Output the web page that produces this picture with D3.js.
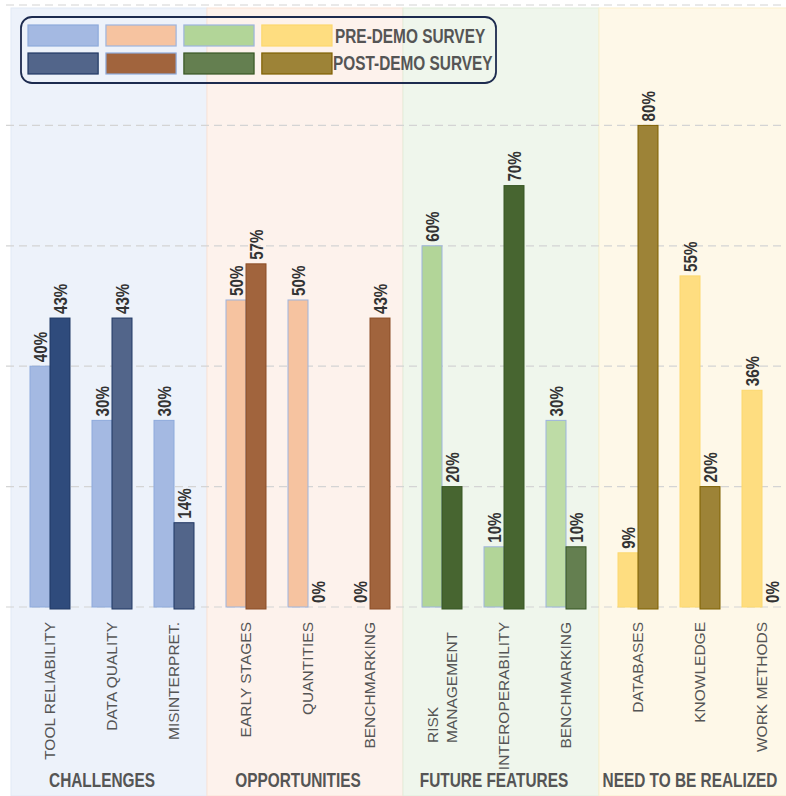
<!DOCTYPE html>
<html>
<head>
<meta charset="utf-8">
<script src="https://cdn.jsdelivr.net/npm/d3@7/dist/d3.min.js"></script>
<style>
  body { margin: 0; background: #fff; }
  .narrow { font-family: "Liberation Sans", Arial, sans-serif; font-weight: bold; }
</style>
</head>
<body>
<div id="chart"></div>
<script>
// data
var groups = ["CHALLENGES", "OPPORTUNITIES", "FUTURE FEATURES", "NEED TO BE REALIZED"];
var categories = [
    ["TOOL RELIABILITY", "DATA QUALITY", "MISINTERPRET."],
    ["EARLY STAGES", "QUANTITIES", "BENCHMARKING"],
    ["RISK\nMANAGEMENT", "INTEROPERABILITY", "BENCHMARKING"],
    ["DATABASES", "KNOWLEDGE", "WORK METHODS"]
];
// bar heights as drawn in the picture (%)
var preValues  = [40, 31, 31,  51, 51, 0,  60, 10, 31,  9, 55, 36];
var postValues = [48, 48, 14,  57, 0, 48,  20, 70, 10,  80, 20, 0];
// printed value labels
var preLabels  = ["40%", "30%", "30%", "50%", "50%", "0%", "60%", "10%", "30%", "9%", "55%", "36%"];
var postLabels = ["43%", "43%", "14%", "57%", "0%", "43%", "20%", "70%", "10%", "80%", "20%", "0%"];
var yTicks = [0, 20, 40, 60, 80, 100];
var legendLabels = ["PRE-DEMO SURVEY", "POST-DEMO SURVEY"];

// colours per group
var panelFill   = ["#edf2fa", "#fdf2ec", "#eff6ec", "#fef8e8"];
var panelStroke = ["#e2e9f5", "#fbe3d6", "#e1eedb", "#fbefcc"];
var preFill     = ["#a4b9e2", "#f6c3a0", "#b2d598", "#fedd80"];
var preStroke   = ["#8eaadb", "#9db4de", "#9db4de", "#fcd86e"];
var postFill    = ["#52658a", "#a1643d", "#647f50", "#9d8337"];
var postDark    = ["#2f4b7c", "#a1643d", "#476530", "#9d8337"];
var postStroke  = ["#203864", "#8b4d26", "#375623", "#7f6000"];
var darkPosts = {"0-0": 1, "2-0": 1, "2-1": 1};
var lightPres = {"2-2": "#bedca6"};

var width = 786, height = 796;
// condensed look for the bold labels
var squeeze = "scale(0.82,1)";
var squeezeBig = "scale(0.77,1)";

var svg = d3.select("#chart").append("svg")
    .attr("width", width)
    .attr("height", height);

var y = d3.scaleLinear().domain([0, 100]).range([607, 5]);

var xGroup = d3.scaleBand().domain(groups).range([11, 795]);

var xCat = groups.map(function(g, gi) {
    var x0 = xGroup(g);
    return d3.scaleBand().domain(d3.range(3)).range([x0 + 8, x0 + 194]);
});
var xSeries = d3.scaleBand().domain(["pre", "post"]).range([-20, 20]);

// rows
var rows = [];
categories.forEach(function(cats, gi) {
    cats.forEach(function(c, ci) {
        var k = gi * 3 + ci;
        rows.push({g: gi, c: ci, name: c, pre: preValues[k], post: postValues[k],
            preLabel: preLabels[k], postLabel: postLabels[k]});
    });
});

function cx(d) { return xCat[d.g](d.c) + xCat[d.g].bandwidth() / 2; }

// panels
svg.selectAll(".panel")
    .data(groups)
    .enter().append("rect")
    .attr("class", "panel")
    .attr("x", function(d) { return xGroup(d); })
    .attr("y", 8)
    .attr("width", xGroup.bandwidth())
    .attr("height", height - 8)
    .attr("fill", function(d, i) { return panelFill[i]; })
    .attr("stroke", function(d, i) { return panelStroke[i]; });

// grid
svg.selectAll(".grid")
    .data(yTicks)
    .enter().append("line")
    .attr("class", "grid")
    .attr("x1", 6).attr("x2", width)
    .attr("y1", function(d) { return y(d); })
    .attr("y2", function(d) { return y(d); })
    .attr("stroke", "#d4d4d4")
    .attr("stroke-width", 1.2)
    .attr("stroke-dasharray", "8,5");

// bars
var cat = svg.selectAll(".cat")
    .data(rows)
    .enter().append("g")
    .attr("class", "cat")
    .attr("transform", function(d) { return "translate(" + cx(d) + ",0)"; });

cat.filter(function(d) { return d.pre > 0; })
    .append("rect")
    .attr("x", xSeries("pre"))
    .attr("width", xSeries.bandwidth())
    .attr("y", function(d) { return y(d.pre); })
    .attr("height", function(d) { return y(0) - y(d.pre); })
    .attr("fill", function(d) { return lightPres[d.g + "-" + d.c] || preFill[d.g]; })
    .attr("stroke", function(d) { return preStroke[d.g]; });

cat.filter(function(d) { return d.post > 0; })
    .append("rect")
    .attr("x", xSeries("post"))
    .attr("width", xSeries.bandwidth())
    .attr("y", function(d) { return y(d.post); })
    .attr("height", function(d) { return y(0) - y(d.post) + 2; })
    .attr("fill", function(d) { return darkPosts[d.g + "-" + d.c] ? postDark[d.g] : postFill[d.g]; })
    .attr("stroke", function(d) { return postStroke[d.g]; });

// value labels
["pre", "post"].forEach(function(s) {
    cat.append("text")
        .attr("class", "narrow")
        .attr("transform", function(d) {
            return "translate(" + (xSeries(s) + xSeries.bandwidth() / 2) + "," + (y(d[s]) - 4) + ") rotate(-90) " + squeeze;
        })
        .attr("dy", "0.36em")
        .attr("font-size", 18.5)
        .attr("fill", "#333")
        .text(function(d) { return d[s + "Label"]; });
});

// category labels
var catLabel = cat.append("text")
    .attr("font-family", "'Liberation Sans', Arial, sans-serif")
    .attr("font-size", 15.5)
    .attr("fill", "#555")
    .attr("transform", function(d) {
        var multi = d.name.indexOf("\n") >= 0;
        return "translate(0," + (multi ? 743 : 622) + ") rotate(-90)";
    })
    .attr("text-anchor", function(d) { return d.name.indexOf("\n") >= 0 ? "start" : "end"; });

catLabel.each(function(d) {
    var lines = d.name.split("\n");
    var t = d3.select(this);
    lines.forEach(function(l, i) {
        t.append("tspan")
            .attr("x", 0)
            .attr("dy", i === 0 ? (0.35 - (lines.length - 1) * 0.6) + "em" : "1.2em")
            .text(l);
    });
});

// group labels
svg.selectAll(".glabel")
    .data(groups)
    .enter().append("text")
    .attr("class", "narrow")
    .attr("transform", function(d) {
        return "translate(" + (xGroup(d) + xGroup.bandwidth() / 2 - 7) + ",787) " + squeezeBig;
    })
    .attr("text-anchor", "middle")
    .attr("font-size", 20)
    .attr("fill", "#555")
    .text(function(d) { return d; });

// legend
var legend = svg.append("g");
legend.append("rect")
    .attr("x", 21).attr("y", 17)
    .attr("width", 475).attr("height", 66)
    .attr("rx", 11)
    .attr("fill", "none")
    .attr("stroke", "#1d2b4f")
    .attr("stroke-width", 1.8);

var xLeg = d3.scaleBand().domain(groups).range([28, 332]).paddingInner(0.1);
legendLabels.forEach(function(lab, r) {
    var yy = r === 0 ? 25 : 53;
    legend.selectAll(".sw" + r)
        .data(groups)
        .enter().append("rect")
        .attr("x", function(d) { return xLeg(d); })
        .attr("y", yy)
        .attr("width", xLeg.bandwidth())
        .attr("height", 21)
        .attr("fill", function(d, i) { return r === 0 ? preFill[i] : postFill[i]; })
        .attr("stroke", function(d, i) { return r === 0 ? preStroke[i] : (i === 1 ? "#8eaadb" : postStroke[i]); })
        .attr("stroke-width", 1.2);
    legend.append("text")
        .attr("class", "narrow")
        .attr("transform", "translate(" + (r === 0 ? 335 : 333) + "," + (r === 0 ? 43 : 70) + ") " + squeezeBig)
        .attr("font-size", 20)
        .attr("fill", "#555")
        .text(lab);
});
</script>
</body>
</html>
